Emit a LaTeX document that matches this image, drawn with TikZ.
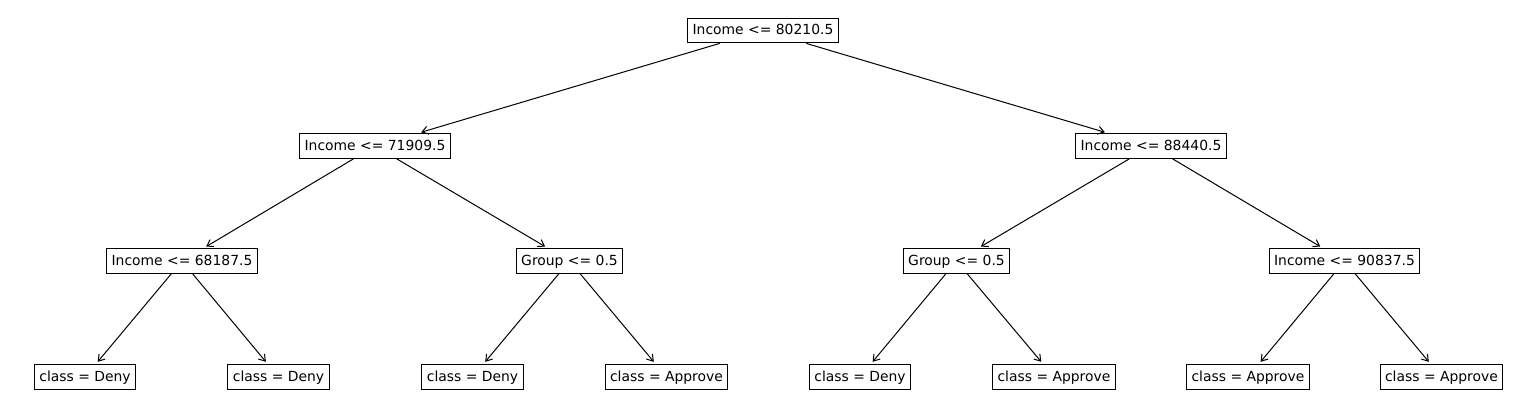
\documentclass[tikz,border=0pt]{standalone}
\usepackage{fontspec}
\setmainfont{DejaVu Sans}
\usetikzlibrary{arrows.meta}
\begin{document}
\begin{tikzpicture}[x=1pt,y=-1pt,
  tbox/.style={draw=black, line width=1pt, fill=white, font=\fontsize{13.9}{16}\selectfont,
    text height=11.2pt, text depth=2.4pt, inner xsep=5pt, inner ysep=5.6pt},
  arr/.style={draw=black, line width=1pt, -{Straight Barb[length=6pt,width=8pt]}, shorten >=3pt}]
\useasboundingbox (0,0) rectangle (1524,408);
\node[tbox] (n0) at (763,30.5) {Income <= 80210.5};
\node[tbox] (n1) at (375,146) {Income <= 71909.5};
\node[tbox] (n2) at (1151,146) {Income <= 88440.5};
\node[tbox] (n3) at (182,261) {Income <= 68187.5};
\node[tbox] (n4) at (569.5,261) {Group <= 0.5};
\node[tbox] (n5) at (956.5,261) {Group <= 0.5};
\node[tbox] (n6) at (1344.5,261) {Income <= 90837.5};
\node[tbox] (l1) at (85,377) {class = Deny};
\node[tbox] (l2) at (278.5,377) {class = Deny};
\node[tbox] (l3) at (472.5,377) {class = Deny};
\node[tbox] (l4) at (666.5,377) {class = Approve};
\node[tbox] (l5) at (860,377) {class = Deny};
\node[tbox] (l6) at (1054,377) {class = Approve};
\node[tbox] (l7) at (1248,377) {class = Approve};
\node[tbox] (l8) at (1441.5,377) {class = Approve};
\draw[arr] (n0) -- (n1);
\draw[arr] (n0) -- (n2);
\draw[arr] (n1) -- (n3);
\draw[arr] (n1) -- (n4);
\draw[arr] (n2) -- (n5);
\draw[arr] (n2) -- (n6);
\draw[arr] (n3) -- (l1);
\draw[arr] (n3) -- (l2);
\draw[arr] (n4) -- (l3);
\draw[arr] (n4) -- (l4);
\draw[arr] (n5) -- (l5);
\draw[arr] (n5) -- (l6);
\draw[arr] (n6) -- (l7);
\draw[arr] (n6) -- (l8);
\end{tikzpicture}
\end{document}
